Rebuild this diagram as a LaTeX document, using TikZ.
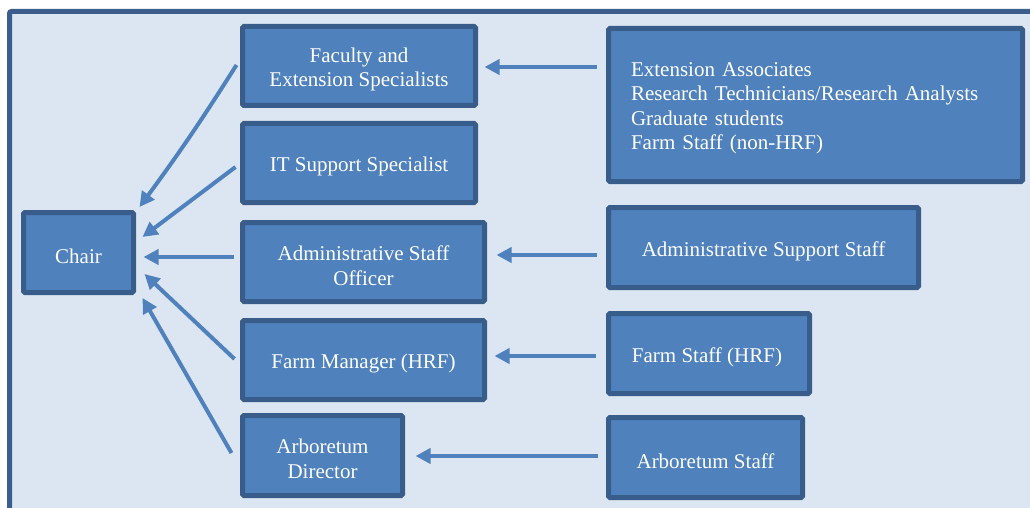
\documentclass[tikz,border=0pt]{standalone}
\usepackage{fontspec}
\setmainfont{Liberation Serif}
\usetikzlibrary{arrows.meta,calc}
\definecolor{boxfill}{HTML}{4F81BD}
\definecolor{boxline}{HTML}{385D8A}
\definecolor{paper}{HTML}{DCE6F2}
\definecolor{framecol}{HTML}{3B5E8C}
\begin{document}
\begin{tikzpicture}[x=1pt,y=-1pt,
  orgbox/.style={draw=boxline, fill=boxfill, line width=5pt, rounded corners=1.5pt, inner sep=0pt},
  orgtext/.style={text=white, inner sep=0pt, align=center, yshift=-3.5pt,
    font=\fontsize{21}{24.5}\selectfont},
  link/.style={draw=boxfill, line width=4pt, -{Triangle[length=15pt,width=15pt]}}]
\useasboundingbox (0,0) rectangle (1030,508);
\clip (0,0) rectangle (1030,508);

% panel background and frame
\fill[paper] (9.5,11.5) rectangle (1040,520);
\draw[framecol, line width=5pt, rounded corners=2pt] (9.5,530) -- (9.5,11.5) -- (1040,11.5);

% left column
\node[orgbox, minimum width=110pt, minimum height=80pt,
  label={[orgtext]center:Chair}] (chair) at (78.5,252.5) {};

% middle column
\node[orgbox, minimum width=233pt, minimum height=79pt,
  label={[orgtext]center:Faculty and\\Extension Specialists}] (fac) at (359,66) {};
\node[orgbox, minimum width=233pt, minimum height=79pt,
  label={[orgtext]center:IT Support Specialist}] (it) at (359,163) {};
\node[orgbox, minimum width=242pt, minimum height=79pt,
  label={[orgtext]center:Administrative Staff\\Officer}] (adm) at (363.5,262) {};
\node[orgbox, minimum width=242pt, minimum height=79pt,
  label={[orgtext]center:Farm Manager (HRF)}] (fm) at (363.5,360) {};
\node[orgbox, minimum width=160pt, minimum height=80pt,
  label={[orgtext]center:Arboretum\\Director}] (ad) at (322.5,455.5) {};

% right column
\node[orgbox, minimum width=414pt, minimum height=153pt,
  label={[orgtext, text width=369pt, align=left]center:Extension Associates\\Research Technicians/Research Analysts\\Graduate students\\Farm Staff (non-HRF)}]
  (ext) at (815.5,105) {};
\node[orgbox, minimum width=310pt, minimum height=80pt,
  label={[orgtext]center:Administrative Support Staff}] (as) at (763.5,247.5) {};
\node[orgbox, minimum width=201pt, minimum height=80pt,
  label={[orgtext, xshift=-2pt]center:Farm Staff (HRF)}] (fs) at (709,353.5) {};
\node[orgbox, minimum width=194pt, minimum height=80pt,
  label={[orgtext]center:Arboretum Staff}] (ast) at (705.5,457.5) {};

% reporting lines to the chair
\draw[link] ($(fac.west)+(-3.5,-1)$) to[bend left=2] ($(chair.east)+(3.5,-45.5)$);
\draw[link] ($(it.west)+(-4.5,4)$) -- ($(chair.east)+(6.5,-15.5)$);
\draw[link] ($(adm.west)+(-6.5,-5)$) -- ($(chair.east)+(7.5,4.5)$);
\draw[link] ($(fm.west)+(-5.5,-1)$) -- ($(chair.east)+(8.5,21.5)$);
\draw[link] ($(ad.west)+(-8.5,-2.5)$) -- ($(chair.east)+(6.5,45.5)$);

% reporting lines to the middle column
\draw[link] ($(ext.west)+(-9.5,-38)$) -- ($(fac.east)+(6.5,1)$);
\draw[link] ($(as.west)+(-9.5,7.5)$) -- ($(adm.east)+(9.5,-7)$);
\draw[link] ($(fs.west)+(-10.5,2.5)$) -- ($(fm.east)+(7.5,-4)$);
\draw[link] ($(ast.west)+(-8.5,-1.5)$) -- ($(ad.east)+(10.5,0.5)$);
\end{tikzpicture}
\end{document}
